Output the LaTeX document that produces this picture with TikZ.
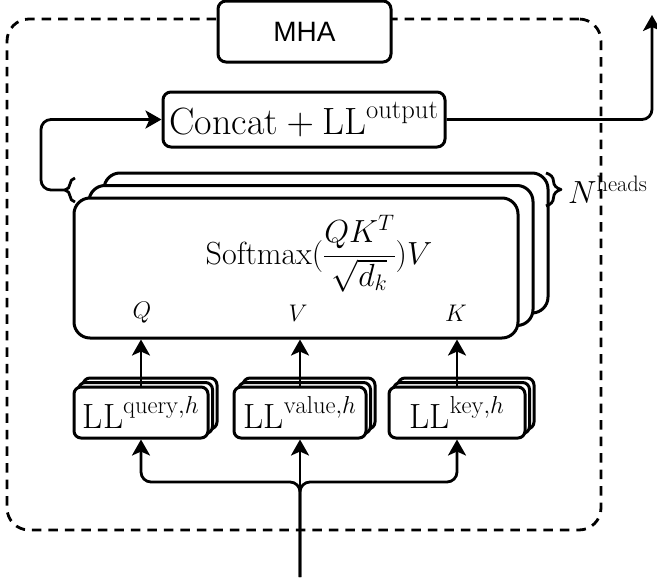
\RequirePackage{fix-cm}
\documentclass[tikz,border=0pt]{standalone}
\usepackage{fontspec}
\newfontfamily\mhafont{Liberation Sans}
\usetikzlibrary{arrows.meta,decorations.pathreplacing}
\begin{document}
\begin{tikzpicture}[x=1pt,y=-1pt,line join=round,
  framebox/.style={draw,dash pattern=on 9.5pt off 7pt,line width=2.8pt,rounded corners=22pt,minimum width=594pt,minimum height=511pt,inner sep=0pt},
  blockbox/.style={draw,fill=white,line width=3pt,rounded corners=8pt,inner sep=0pt},
  headbox/.style={draw,fill=white,line width=3pt,rounded corners=16pt,minimum width=444pt,minimum height=140pt,inner sep=0pt},
  llbox/.style={draw,fill=white,line width=3pt,rounded corners=7pt,minimum width=134pt,minimum height=51pt,inner sep=0pt},
  conn/.style={line width=2.8pt,-{Stealth[length=16pt,width=18pt,inset=4pt]}},
  bracepath/.style={line width=2.8pt,decorate},
  lbl/.style={inner sep=0pt}]
\useasboundingbox (0,0) rectangle (657,582);

% dashed MHA frame
\node[framebox] (frame) at (304,274.5) {};
\node[blockbox,minimum width=173pt,minimum height=61pt,font=\mhafont\fontsize{28}{32}\selectfont] (mha) at (304.5,31.5) {MHA};

% concat
\node[blockbox,minimum width=282pt,minimum height=55pt,font=\fontsize{38}{44}\selectfont] (concat) at (304,119.5) {$\mathrm{Concat}+\mathrm{LL}^{\mathrm{output}}$};

% heads stack
\node[headbox] (h3) at (326,243) {};
\node[headbox] (h2) at (311,255.5) {};
\node[headbox] (h1) at (296,268) {};
\node[lbl,font=\fontsize{32}{38}\selectfont] (softmax) at (319,254) {$\mathrm{Softmax}(\displaystyle\frac{QK^T}{\sqrt{d_k}})V$};
\node[lbl,font=\fontsize{24}{28}\selectfont] (ql) at (142,313) {$Q$};
\node[lbl,font=\fontsize{24}{28}\selectfont] (vl) at (298,313) {$V$};
\node[lbl,font=\fontsize{24}{28}\selectfont] (kl) at (456,313) {$K$};

% braces
\draw[bracepath,decoration={brace,amplitude=10pt}] (75,202) -- (75,178);
\coordinate (lb) at (65,190);
\draw[bracepath,decoration={brace,amplitude=15pt}] (546,173) -- (546,206);
\node[anchor=base west,lbl,font=\fontsize{32}{38}\selectfont] (nh) at (568,203) {$N^{\mathrm{heads}}$};

% LL stacks
\node[llbox] (lq3) at (150,403.5) {};
\node[llbox] (lq2) at (145.5,408) {};
\node[llbox,font=\fontsize{35}{40}\selectfont] (lq) at (141,412.5) {$\mathrm{LL}^{\mathrm{query},h}$};
\node[llbox,minimum width=132pt] (lv3) at (309,403.5) {};
\node[llbox,minimum width=132pt] (lv2) at (304.5,408) {};
\node[llbox,minimum width=132pt,font=\fontsize{35}{40}\selectfont] (lv) at (300,412.5) {$\mathrm{LL}^{\mathrm{value},h}$};
\node[llbox,minimum width=136pt] (lk3) at (466,403.5) {};
\node[llbox,minimum width=136pt] (lk2) at (461.5,408) {};
\node[llbox,minimum width=136pt,font=\fontsize{35}{40}\selectfont] (lk) at (457,412.5) {$\mathrm{LL}^{\mathrm{key},h}$};

% arrows LL -> heads
\draw[conn] (lq.north) -- (lq.north |- h1.south);
\draw[conn] (lv.north) -- (lv.north |- h1.south);
\draw[conn] (lk.north) -- (lk.north |- h1.south);

% input fork
\coordinate (in) at (300,577);
\coordinate (fork) at (300,482);
\draw[conn] (in) -- (lv.south);
\draw[conn,rounded corners=10pt] (in) -- (fork) -| (lq.south);
\draw[conn,rounded corners=10pt] (in) -- (fork) -| (lk.south);

% heads -> concat loop
\coordinate (loop) at (41,190);
\draw[conn,rounded corners=10pt] (lb) -- (loop) |- (concat.west);

% output
\coordinate (out) at (652,15);
\draw[conn,rounded corners=10pt] (concat.east) -| (out);
\end{tikzpicture}
\end{document}
